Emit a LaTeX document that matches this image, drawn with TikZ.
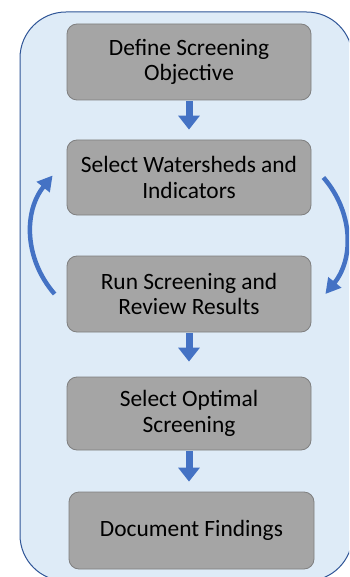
\documentclass[tikz,border=0pt]{standalone}
\usepackage{fontspec}
\setmainfont{Carlito}
\usetikzlibrary{arrows.meta}
\definecolor{panelblue}{HTML}{DEEBF7}
\definecolor{paneledge}{HTML}{2F5597}
\definecolor{stepgray}{HTML}{A5A5A5}
\definecolor{stepedge}{HTML}{7F7F7F}
\definecolor{flowblue}{HTML}{4472C4}
\tikzset{
  stepbox/.style={draw=stepedge, fill=stepgray, line width=0.8pt, rounded corners=10pt,
    minimum width=244pt, align=center, font=\fontsize{23.4}{25.5}\selectfont, inner sep=0pt},
  flow/.style={flowblue, line width=7pt, -{Triangle[width=21pt,length=14pt]}},
  loop/.style={flowblue, line width=4.5pt, -{Triangle[width=16pt,length=15pt]}}
}
\begin{document}
\begin{tikzpicture}[x=1pt,y=-1pt]
    \useasboundingbox (0,0) rectangle (349,577);
    \clip (0,0) rectangle (349,577);
    \fill[white] (0,0) rectangle (349,577);
    \draw[paneledge, fill=panelblue, line width=1pt, rounded corners=46pt] (20,12) rectangle (352.5,581);

    \node[stepbox, minimum height=76pt] (define)   at (189,62)    {Define Screening\\Objective};
    \node[stepbox, minimum height=75pt] (select)   at (189,177.5) {Select Watersheds and\\Indicators};
    \node[stepbox, minimum height=76pt] (run)      at (189,294)   {Run Screening and\\Review Results};
    \node[stepbox, minimum height=73pt] (optimal)  at (189,413.5) {Select Optimal\\Screening};
    \node[stepbox, minimum height=77pt, minimum width=245pt] (document) at (191.5,530.5) {Document Findings};

    \draw[flow, shorten <=1pt, shorten >=10pt] (define) -- (select);
    \draw[flow, shorten <=1pt, shorten >=15pt] (run) -- (optimal);
    \draw[flow, shorten <=1pt, shorten >=10pt] (optimal.south) -- (optimal.south |- document.north);

    \draw[loop] ([xshift=-12pt]run.west) to[bend left=40] ([xshift=-14pt,yshift=2pt]select.west);
    \draw[loop] ([xshift=12pt]select.east) to[bend left=40] ([xshift=14pt]run.east);
\end{tikzpicture}
\end{document}
